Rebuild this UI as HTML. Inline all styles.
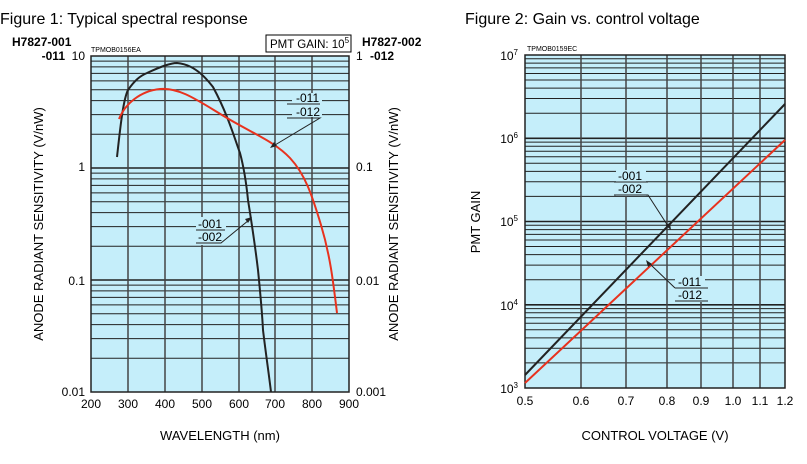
<!DOCTYPE html>
<html><head><style>body{margin:0;background:#fff;width:807px;height:464px;overflow:hidden}svg{display:block}text{font-family:"Liberation Sans",sans-serif}</style></head><body>
<svg width="807" height="464" viewBox="0 0 807 464">
<rect x="91" y="56" width="258" height="336" fill="#c5eefa"/>
<g stroke="#222" stroke-width="1">
<path d="M91 134.3H349M91 114.6H349M91 100.6H349M91 89.7H349M91 80.9H349M91 73.4H349M91 66.9H349M91 61.1H349M91 246.3H349M91 226.6H349M91 212.6H349M91 201.7H349M91 192.9H349M91 185.4H349M91 178.9H349M91 173.1H349M91 358.3H349M91 338.6H349M91 324.6H349M91 313.7H349M91 304.9H349M91 297.4H349M91 290.9H349M91 285.1H349"/>
<path d="M91 168H349M91 280H349" stroke-width="1.6"/>
<path d="M128 56V392M165 56V392M202 56V392M239 56V392M275 56V392M312 56V392" stroke="#444" stroke-width="1.5"/>
<rect x="91" y="56" width="258" height="336" fill="none" stroke-width="1.5"/>
</g>
<path d="M117 157 C120 130 123 100 128 90 C135 80 140 76 147 73 C160 67 170 63 177 63 C188 64 195 69 200 73 C206 78 209 82 213 87 C220 100 223 107 227 117 C233 132 237 145 240 153 C244 168 246 180 248 200 C252 225 255 245 258 270 C260 290 262 310 263 330 C266 355 269 375 271 392" fill="none" stroke="#222" stroke-width="2"/>
<path d="M119 119 C125 104 140 91 160 89 S200 102 227 118 S275 142 290 158 S312 195 321 225 S333 280 337 313" fill="none" stroke="#e8321e" stroke-width="2"/>
<g fill="#000" font-size="11">
<text x="85" y="60" text-anchor="end" font-size="12">10</text>
<text x="85" y="171" text-anchor="end" font-size="12">1</text>
<text x="85" y="285" text-anchor="end" font-size="12">0.1</text>
<text x="85" y="396" text-anchor="end" font-size="12">0.01</text>
<text x="356" y="60" font-size="12">1</text>
<text x="356" y="171" font-size="12">0.1</text>
<text x="356" y="285" font-size="12">0.01</text>
<text x="356" y="396" font-size="12">0.001</text>
<g text-anchor="middle" font-size="12"><text x="91" y="408">200</text><text x="128" y="408">300</text><text x="165" y="408">400</text><text x="202" y="408">500</text><text x="239" y="408">600</text><text x="275" y="408">700</text><text x="312" y="408">800</text><text x="349" y="408">900</text></g>
<text x="220" y="440" text-anchor="middle" font-size="13">WAVELENGTH (nm)</text>
<text transform="translate(43 224) rotate(-90)" text-anchor="middle" font-size="13">ANODE RADIANT SENSITIVITY (V/nW)</text>
<text transform="translate(398 224) rotate(-90)" text-anchor="middle" font-size="13">ANODE RADIANT SENSITIVITY (V/nW)</text>
<text x="12" y="46" font-size="12" font-weight="bold">H7827-001</text>
<text x="65" y="60" text-anchor="end" font-size="12" font-weight="bold">-011</text>
<text x="362" y="46" font-size="12" font-weight="bold">H7827-002</text>
<text x="370" y="60" font-size="12" font-weight="bold">-012</text>
<text x="91" y="52" font-size="7">TPMOB0156EA</text>
<text x="0" y="24" font-size="16">Figure 1: Typical spectral response</text>
<text x="465" y="24" font-size="16">Figure 2: Gain vs. control voltage</text>
</g>
<rect x="266" y="35" width="85" height="17" fill="#fff" stroke="#000"/>
<text x="270" y="48" font-size="11.5">PMT GAIN: 10<tspan font-size="8" dy="-5">5</tspan></text>
<g>
<rect x="292" y="93" width="30" height="24" fill="#c5eefa"/>
<text x="296" y="102" font-size="12">-011</text><text x="296" y="116" font-size="12">-012</text>
<path d="M287 104H320M287 118H320L275 145" fill="none" stroke="#222"/>
<path d="M270 148l7-2-3-4z" fill="#222"/>
<rect x="196" y="217" width="30" height="28" fill="#c5eefa"/>
<text x="198" y="228" font-size="12">-001</text><text x="198" y="241" font-size="12">-002</text>
<path d="M196 230H225M196 243H221L249 220" fill="none" stroke="#222"/>
<path d="M252 217l-7 2 3 4z" fill="#222"/>
</g>
<rect x="525" y="55" width="260" height="333" fill="#c5eefa"/>
<g stroke="#222" stroke-width="1">
<path d="M525 113.2H785M525 98.5H785M525 88.1H785M525 80H785M525 73.5H785M525 67.9H785M525 63.1H785M525 58.8H785M525 196.4H785M525 181.8H785M525 171.4H785M525 163.3H785M525 156.7H785M525 151.2H785M525 146.3H785M525 142.1H785M525 279.7H785M525 265.1H785M525 254.6H785M525 246.5H785M525 240H785M525 234.4H785M525 229.6H785M525 225.3H785M525 362.9H785M525 348.3H785M525 337.9H785M525 329.8H785M525 323.2H785M525 317.7H785M525 312.8H785M525 308.6H785"/>
<path d="M525 138.3H785M525 221.5H785M525 304.8H785" stroke-width="1.6"/>
<path d="M581 55V388M626 55V388M667 55V388M701 55V388M733 55V388M760 55V388" stroke="#444" stroke-width="1.5"/>
<rect x="525" y="55" width="260" height="333" fill="none" stroke-width="1.5"/>
</g>
<path d="M525 375L785 104" stroke="#222" stroke-width="2"/>
<path d="M525 383L785 140" stroke="#e8321e" stroke-width="2"/>
<g font-size="12" fill="#000">
<text x="518" y="60" text-anchor="end">10<tspan font-size="8" dy="-5">7</tspan></text>
<text x="518" y="143" text-anchor="end">10<tspan font-size="8" dy="-5">6</tspan></text>
<text x="518" y="226" text-anchor="end">10<tspan font-size="8" dy="-5">5</tspan></text>
<text x="518" y="310" text-anchor="end">10<tspan font-size="8" dy="-5">4</tspan></text>
<text x="518" y="393" text-anchor="end">10<tspan font-size="8" dy="-5">3</tspan></text>
<g text-anchor="middle"><text x="525" y="405">0.5</text><text x="581" y="405">0.6</text><text x="626" y="405">0.7</text><text x="667" y="405">0.8</text><text x="701" y="405">0.9</text><text x="733" y="405">1.0</text><text x="760" y="405">1.1</text><text x="785" y="405">1.2</text></g>
<text x="655" y="440" text-anchor="middle" font-size="13">CONTROL VOLTAGE (V)</text>
<text transform="translate(480 222) rotate(-90)" text-anchor="middle" font-size="13">PMT GAIN</text>
<text x="527" y="51" font-size="7">TPMOB0159EC</text>
</g>
<rect x="616" y="170" width="30" height="26" fill="#c5eefa"/>
<text x="618" y="180" font-size="12">-001</text><text x="618" y="193" font-size="12">-002</text>
<path d="M614 182H648M614 195H648L668 226" fill="none" stroke="#222"/>
<path d="M671 230l-1-7-5 2z" fill="#222"/>
<rect x="675" y="276" width="30" height="26" fill="#c5eefa"/>
<text x="678" y="286" font-size="12">-011</text><text x="678" y="299" font-size="12">-012</text>
<path d="M675 288H708M675 301H708M675 288L650 264" fill="none" stroke="#222"/>
<path d="M646 260l2 7 4-3z" fill="#222"/>
</svg>
</body></html>
